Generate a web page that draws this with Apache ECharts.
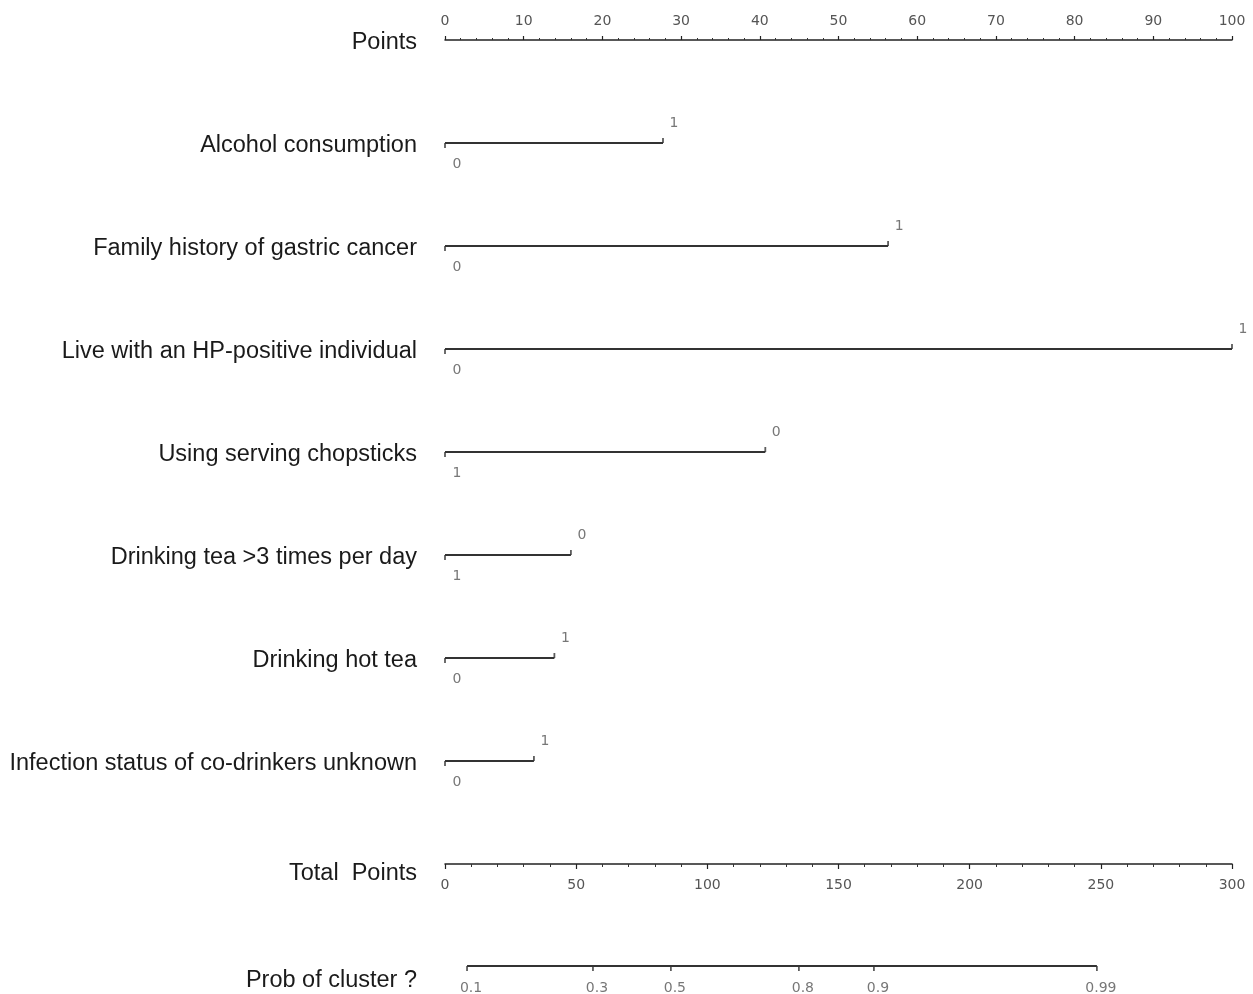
<!DOCTYPE html>
<html><head><meta charset="utf-8">
<script src="https://cdn.jsdelivr.net/npm/echarts@6/dist/echarts.min.js"></script>
<style>html,body{margin:0;padding:0;background:#fff}#c{width:1253px;height:994px}</style>
</head><body><div id="c"></div>
<script>
// ---- data ----
const rowNames = ['Alcohol consumption','Family history of gastric cancer','Live with an HP-positive individual','Using serving chopsticks','Drinking tea >3 times per day','Drinking hot tea','Infection status of co-drinkers unknown'];
const rowPoints = [27.7, 56.3, 100, 40.7, 16.0, 13.9, 11.3];
const leftLevels = ['0','0','0','1','1','0','0'];
const rightLevels = ['1','1','1','0','0','1','1'];
const pointsRange = [0, 100];
const totalRange = [0, 300];
const probLabels = ['0.1','0.3','0.5','0.8','0.9','0.99'];
const probAtTotal = [8.4, 56.4, 86.1, 134.9, 163.5, 248.5];
const axisTitles = ['Points', 'Total  Points', 'Prob of cluster ?'];

const nRows = rowNames.length;
const rowY = i => nRows - i;          // rows stacked from top
function titleFor(v){
  if (v === nRows + 1) return '{n|' + axisTitles[0] + '}';
  if (v === 0) return '{t|' + axisTitles[1] + '}';
  return '{n|' + rowNames[nRows - v] + '}';
}
function probTitle(v){ return v === -1 ? '{p|' + axisTitles[2] + '}' : ''; }

const tickFont = {fontFamily:'DejaVu Sans', fontSize:14, color:'#555'};
const titleFont = {fontFamily:'Liberation Sans', fontSize:23.5, color:'#1a1a1a'};
const series = [];
rowNames.forEach((n,i)=>{
  series.push({type:'line', xAxisIndex:0, yAxisIndex:0, silent:true, symbol:'none',
    data:[[0,rowY(i)],[rowPoints[i],rowY(i)]], lineStyle:{color:'#333', width:1.8}});
});
series.push({type:'scatter', xAxisIndex:0, yAxisIndex:0, silent:true,
  symbol:'rect', symbolSize:[1.8,5], symbolOffset:[0,2.5], itemStyle:{color:'#333'},
  data: rowNames.map((n,i)=>({value:[0,rowY(i)], label:{formatter:leftLevels[i]}})),
  label:{show:true, position:'inside', offset:[12,18.5], ...tickFont}});
series.push({type:'scatter', xAxisIndex:0, yAxisIndex:0, silent:true,
  symbol:'rect', symbolSize:[1.8,5], symbolOffset:[0,-2.5], itemStyle:{color:'#333'},
  data: rowNames.map((n,i)=>({value:[rowPoints[i],rowY(i)], label:{formatter:rightLevels[i]}})),
  label:{show:true, position:'inside', offset:[11,-17.5], ...tickFont}});
series.push({type:'line', xAxisIndex:1, yAxisIndex:1, silent:true, symbol:'none',
  data:[[probAtTotal[0],-1],[probAtTotal[probAtTotal.length-1],-1]], lineStyle:{color:'#333', width:1.8}});
series.push({type:'scatter', xAxisIndex:1, yAxisIndex:1, silent:true,
  symbol:'rect', symbolSize:[1.8,5], symbolOffset:[0,2.5], itemStyle:{color:'#333'},
  data: probAtTotal.map((x,i)=>({value:[x,-1], label:{formatter:probLabels[i]}})),
  label:{show:true, position:'inside', offset:[4,19.5], ...tickFont}});

const chart = echarts.init(document.getElementById('c'), null, {renderer:'canvas'});
chart.setOption({
  animation:false,
  backgroundColor:'#fff',
  grid:[
    {left:445, right:21, top:40, height:824, containLabel:false},
    {left:445, right:21, top:864, height:102, containLabel:false}
  ],
  xAxis:[
    {type:'value', gridIndex:0, position:'top', min:pointsRange[0], max:pointsRange[1], interval:10,
     axisLine:{show:true, onZero:false, lineStyle:{color:'#222', width:1.5}},
     axisTick:{show:true, length:4, lineStyle:{color:'#222', width:1.2}},
     minorTick:{show:true, splitNumber:5, length:2, lineStyle:{color:'#333', width:1}},
     splitLine:{show:false},
     axisLabel:{margin:12, ...tickFont}},
    {type:'value', gridIndex:1, position:'top', min:totalRange[0], max:totalRange[1], interval:50,
     axisLine:{show:true, onZero:false, lineStyle:{color:'#222', width:1.5}},
     axisTick:{show:true, inside:true, length:5, lineStyle:{color:'#222', width:1.2}},
     minorTick:{show:true, splitNumber:5, length:3, lineStyle:{color:'#333', width:1}},
     splitLine:{show:false},
     axisLabel:{inside:true, margin:14, ...tickFont}}
  ],
  yAxis:[
    {type:'value', gridIndex:0, min:0, max:nRows+1, interval:1,
     axisLine:{show:false}, axisTick:{show:false}, splitLine:{show:false},
     axisLabel:{margin:28, ...titleFont, formatter:titleFor,
       rich:{n:{...titleFont, padding:[6,0,0,0]}, t:{...titleFont, padding:[20,0,0,0]}}}},
    {type:'value', gridIndex:1, min:-1, max:0, interval:1,
     axisLine:{show:false}, axisTick:{show:false}, splitLine:{show:false},
     axisLabel:{margin:28, ...titleFont, formatter:probTitle,
       rich:{p:{...titleFont, padding:[30,0,0,0]}}}}
  ],
  series
});
</script></body></html>
